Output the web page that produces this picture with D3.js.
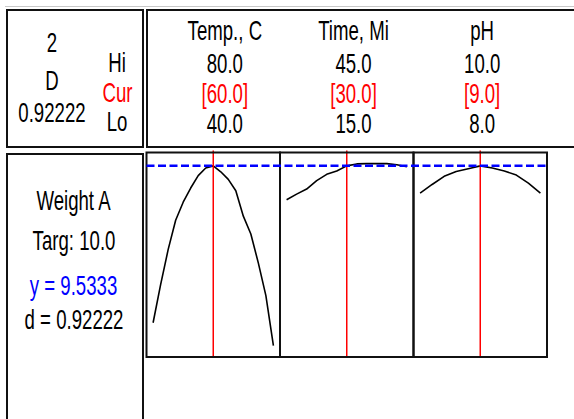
<!DOCTYPE html>
<html><head><meta charset="utf-8">
<script src="https://cdn.jsdelivr.net/npm/d3@7"></script>
<style>body{margin:0;background:#fff}svg{display:block}</style>
</head><body>
<script>
// ---- data ----
const factors = ["Temp., C", "Time, Mi", "pH"];
const hiVals = [80.0, 45.0, 10.0];
const curVals = [60.0, 30.0, 9.0];
const loVals = [40.0, 15.0, 8.0];
const optimalLabel = "2";
const compositeD = 0.92222;
const responseName = "Weight A";
const target = 10.0;
const predictedY = 9.5333;
const desirability = 0.92222;

const tempX = [40, 42.5, 45, 47.5, 50, 52.5, 55, 57.5, 60, 62.5, 65, 67.5, 70, 72.5, 75, 77.5, 80];
const tempY = [3.35, 4.85, 6.23, 7.39, 8.10, 8.66, 9.15, 9.45, 9.5333, 9.30, 9.00, 8.55, 7.55, 6.85, 5.70, 4.42, 2.45];
const timeX = [15, 17.5, 20, 22.5, 25, 27.5, 30, 32.5, 35, 37.5, 40, 42.5, 45];
const timeY = [8.20, 8.42, 8.62, 8.95, 9.20, 9.33, 9.5333, 9.61, 9.62, 9.62, 9.62, 9.58, 9.50];
const phX = [8.0, 8.2, 8.4, 8.6, 8.8, 9.0, 9.2, 9.4, 9.6, 9.8, 10.0];
const phY = [8.46, 8.80, 9.12, 9.31, 9.42, 9.5333, 9.45, 9.33, 9.17, 8.85, 8.46];
const curvesX = [tempX, timeX, phX];
const curvesY = [tempY, timeY, phY];
const yDomain = [2.0, 10.06];

// ---- drawing ----
const W = 574, H = 419;
const svg = d3.select("body").append("svg").attr("width", W).attr("height", H);
const FONT = "'Liberation Sans', Arial, sans-serif";
const FS = 27, SX = 0.69;

function txt(x, y, s, color) {
  svg.append("text")
    .attr("transform", `translate(${x},${y}) scale(${SX},1)`)
    .attr("text-anchor", "middle")
    .attr("font-family", FONT)
    .attr("font-size", FS)
    .attr("fill", color || "#000")
    .text(s);
}

// light gray top rule
svg.append("line").attr("x1", 5).attr("x2", W).attr("y1", 6.5).attr("y2", 6.5)
  .attr("stroke", "#c8c8c8").attr("stroke-width", 1);

const boxStroke = "#111";
// top-left box
svg.append("rect").attr("x", 7).attr("y", 10).attr("width", 136).attr("height", 137)
  .attr("fill", "none").attr("stroke", boxStroke).attr("stroke-width", 2);
// top-right box
svg.append("rect").attr("x", 147).attr("y", 10).attr("width", 450).attr("height", 137)
  .attr("fill", "none").attr("stroke", boxStroke).attr("stroke-width", 2);
// bottom-left box
svg.append("rect").attr("x", 7).attr("y", 154).attr("width", 136).attr("height", 300)
  .attr("fill", "none").attr("stroke", boxStroke).attr("stroke-width", 2);

// top-left text
txt(52, 52, optimalLabel);
txt(52, 90, "D");
txt(52, 121.5, compositeD.toFixed(5));
txt(117, 72, "Hi");
txt(117.5, 102, "Cur", "#ff0000");
txt(117, 131, "Lo");

// header columns
const headX = d3.scaleBand().domain(factors).range([160.5, 546.5]);
factors.forEach((f, i) => {
  const cx = headX(f) + headX.bandwidth() / 2;
  txt(cx, 40, f);
  txt(cx, 72.5, hiVals[i].toFixed(1));
  txt(cx, 102.5, "[" + curVals[i].toFixed(1) + "]", "#ff0000");
  txt(cx, 132.5, loVals[i].toFixed(1));
});

// bottom-left response text
txt(73.5, 209.5, responseName);
txt(74, 250, "Targ: " + target.toFixed(1));
txt(73.5, 295, "y = " + predictedY.toFixed(4), "#0000ff");
txt(74, 328.5, "d = " + desirability.toFixed(5));

// panels
const panelTop = 152.5, panelBottom = 357;
const band = d3.scaleBand().domain(factors).range([146.5, 547]);
const y = d3.scaleLinear().domain(yDomain).range([panelBottom, panelTop]);
const pad = 6.6;

factors.forEach((f, i) => {
  const x0 = band(f), x1 = x0 + band.bandwidth();
  const x = d3.scaleLinear().domain([loVals[i], hiVals[i]]).range([x0 + pad, x1 - pad]);
  const pts = curvesX[i].map((v, j) => [x(v), y(curvesY[i][j])]);
  svg.append("path").attr("d", d3.line()(pts))
    .attr("fill", "none").attr("stroke", "#000").attr("stroke-width", 1.6)
    .attr("stroke-linejoin", "round");
  svg.append("line").attr("x1", x(curVals[i])).attr("x2", x(curVals[i]))
    .attr("y1", panelTop - 2).attr("y2", panelBottom)
    .attr("stroke", "#ff0000").attr("stroke-width", 1.5);
  svg.append("rect").attr("x", x0).attr("y", panelTop).attr("width", x1 - x0).attr("height", panelBottom - panelTop)
    .attr("fill", "none").attr("stroke", boxStroke).attr("stroke-width", 2);
});

// predicted response dashed line
svg.append("line").attr("x1", 146.5).attr("x2", 547)
  .attr("y1", y(predictedY)).attr("y2", y(predictedY))
  .attr("stroke", "#0000ff").attr("stroke-width", 2.5).attr("stroke-dasharray", "8,3.5");
</script>
</body></html>
